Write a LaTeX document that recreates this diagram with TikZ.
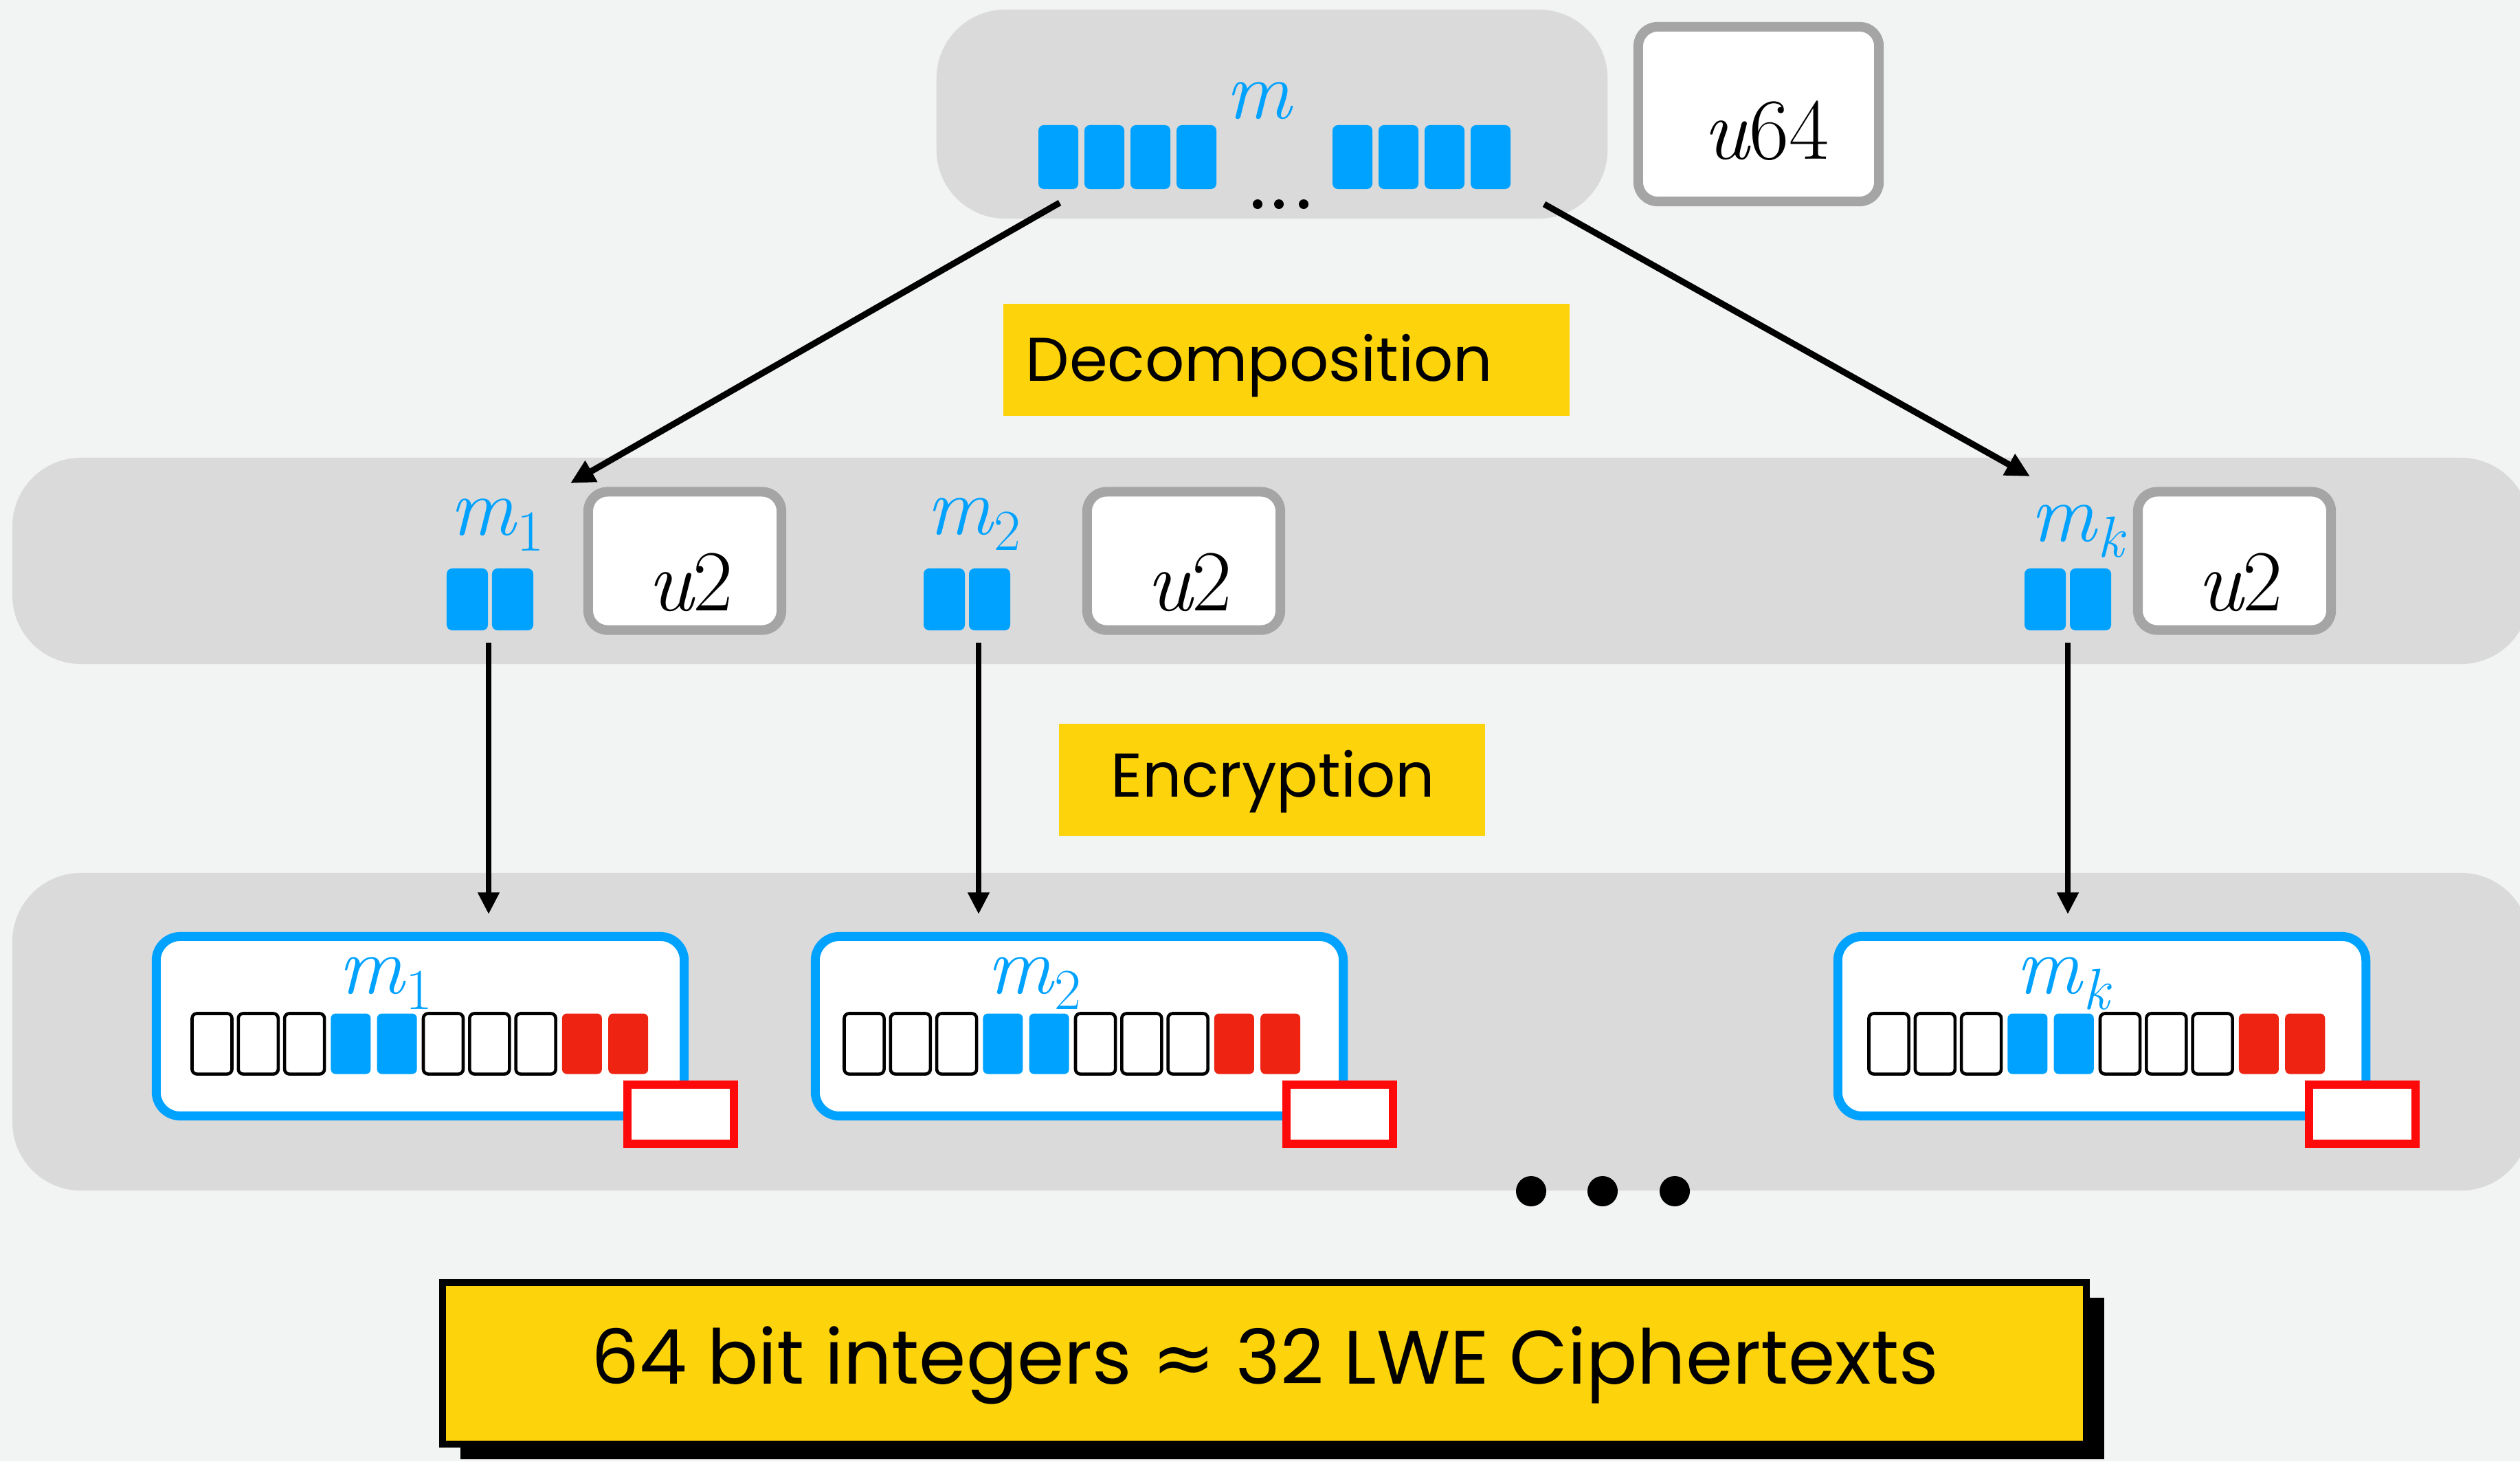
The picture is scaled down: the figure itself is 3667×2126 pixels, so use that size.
\documentclass[tikz,border=0pt]{standalone}
\usepackage{fontspec}
\setmainfont{Poppins}
\newfontfamily\symfont{DejaVu Sans}
\newfontfamily\lmfont{Latin Modern Roman}
\usetikzlibrary{arrows.meta,calc,shadows}

\definecolor{paper}{HTML}{F2F4F3}
\definecolor{bandgrey}{HTML}{DADADA}
\definecolor{bitblue}{HTML}{00A2FF}
\definecolor{bitred}{HTML}{EE2311}
\definecolor{framered}{HTML}{FF0A0A}
\definecolor{tagyellow}{HTML}{FDD30B}
\definecolor{boxgrey}{HTML}{A5A5A5}

% italic symbol with a lowered index, set in Latin Modern
\newcommand\varsub[2]{{\lmfont\itshape #1}\kern0.02em\raisebox{-0.2em}{\fontsize{24}{26}\selectfont\lmfont #2}}
\newcommand\uint[1]{{\lmfont\itshape u}{\lmfont #1}}

\begin{document}
\begin{tikzpicture}[x=0.01cm, y=-0.01cm,
  band/.style={fill=bandgrey, rounded corners=1cm, inner sep=0, outer sep=0},
  topbit/.style={fill=bitblue, rounded corners=0.08cm, minimum width=0.58cm, minimum height=0.93cm, inner sep=0},
  midbit/.style={fill=bitblue, rounded corners=0.08cm, minimum width=0.60cm, minimum height=0.90cm, inner sep=0},
  ubox/.style={draw=boxgrey, line width=4pt, fill=white, rounded corners=0.28cm, inner sep=0},
  utext/.style={font=\fontsize{36}{40}\selectfont, text=black, inner sep=0},
  mlabel/.style={font=\fontsize{34}{38}\selectfont, text=bitblue, inner sep=0, anchor=base west},
  cipher/.style={draw=bitblue, line width=3.7pt, fill=white, rounded corners=0.35cm,
                 minimum width=7.68cm, minimum height=2.61cm, inner sep=0},
  cell/.style={rounded corners=0.07cm, minimum width=0.58cm, minimum height=0.88cm, inner sep=0},
  zero/.style={cell, draw=black, line width=1.3pt, fill=white},
  msg/.style={cell, fill=bitblue},
  noise/.style={cell, fill=bitred},
  tag/.style={draw=framered, line width=3.4pt, fill=white, minimum width=1.55cm, minimum height=0.86cm, inner sep=0},
  steplabel/.style={fill=tagyellow, inner sep=0, minimum height=1.63cm},
  steptext/.style={font=\fontsize{25.5}{30}\selectfont, text=black, inner sep=0},
  flow/.style={line width=2.6pt, -{Triangle[length=10pt,width=9.5pt]}},
  down/.style={line width=2.2pt, -{Triangle[length=9pt,width=8.5pt]}},
  dot/.style={circle, fill=black, inner sep=0},
]
\useasboundingbox (0,0) rectangle (3667,2126);
\fill[paper] (0,0) rectangle (3667,2126);

% ---- grey bands ----
\node[band, minimum width=9.76cm, minimum height=3.04cm] (topband) at (1851,166) {};
\node[band, minimum width=36.61cm, minimum height=3.00cm] (midband) at (1849.5,816) {};
\node[band, minimum width=36.61cm, minimum height=4.62cm] (lowband) at (1849.5,1501) {};

% ---- the 64-bit message ----
\foreach \i in {0,...,3}{
  \node[topbit] (mA\i) at ({1540+\i*67},228.5) {};
  \node[topbit] (mB\i) at ({1968+\i*67},228.5) {};
}
\node[mlabel] (m) at (1783,172) {\lmfont\itshape m};
\foreach \i/\x in {1/1830,2/1861,3/1897}
  \node[dot, minimum size=0.14cm] (gap\i) at (\x,297) {};

\node[ubox, minimum width=3.50cm, minimum height=2.54cm] (u64box) at (2559,166) {};
\node[utext] (u64) at ($(u64box.center)+(11,24)$) {\uint{64}};

% ---- decomposition ----
\node[steplabel, minimum width=8.24cm] (decompbox) at (1872,523.5) {};
\node[steptext, anchor=base west] (decomp) at (1492,554) {Decomposition};

% ---- the 2-bit pieces ----
\foreach \n/\s/\x/\mx/\my/\ux in {1/1/650/654/778/996.5, 2/2/1344/1348/777/1722.5, k/\itshape k/2946/2954/787/3251.5}{
  \node[midbit] (p\n a) at ({\x+30},872) {};
  \node[midbit] (p\n b) at ({\x+96},872) {};
  \node[mlabel] (pm\n) at (\mx,\my) {\varsub{m}{\s}};
  \node[ubox, minimum width=2.81cm, minimum height=2.01cm] (ub\n) at (\ux,816) {};
  \node[utext] (u\n) at ($(ub\n.center)+(8,31)$) {\uint{2}};
}

% ---- decomposition arrows ----
\coordinate (dl-from) at (1542,295);
\coordinate (dl-to) at (830,703);
\coordinate (dr-from) at (2247,297);
\coordinate (dr-to) at (2954,693);
\draw[flow] (dl-from) -- (dl-to);
\draw[flow] (dr-from) -- (dr-to);

% ---- encryption ----
\node[steplabel, minimum width=6.20cm] (encbox) at (1851,1134.5) {};
\node[steptext, anchor=base] (enc) at (1852,1159) {Encryption};

% ---- LWE ciphertexts ----
\foreach \n/\s/\L/\cx/\mx/\tx in {1/1/221/277/492/990.5, 2/2/1180/1226/1436/1949.5, k/\itshape k/2668/2717/2933/3437.5}{
  \node[cipher] (ct\n) at ({\L+390.5},1493) {};
  \node[mlabel] (cm\n) at (\mx,1445) {\varsub{m}{\s}};
  \foreach \kind [count=\i] in {zero,zero,zero,msg,msg,zero,zero,zero,noise,noise}
    \node[\kind] (ct\n-\i) at ({\cx+31.5+(\i-1)*67.3},1518.5) {};
  \node[tag] (tag\n) at (\tx,1621) {};
}

% ---- encryption arrows ----
\foreach \n/\x in {1/711, 2/1424, k/3009}{
  \coordinate (e\n-from) at (\x,935);
  \coordinate (e\n-to) at (\x,1330);
  \draw[down] (e\n-from) -- (e\n-to);
}

% ---- more ciphertexts ----
\foreach \i/\x in {1/2228,2/2332,3/2437}
  \node[dot, minimum size=0.44cm] (more\i) at (\x,1733) {};

% ---- summary ----
\node[fill=tagyellow, draw=black, line width=2.8pt, inner sep=0,
      minimum width=23.90cm, minimum height=2.35cm,
      drop shadow={shadow xshift=0.26cm, shadow yshift=-0.22cm, opacity=1, fill=black}]
      (summarybox) at (1840,1983.5) {};
\node[font=\fontsize{31.3}{36}\selectfont, inner sep=0, anchor=base] (summary) at (1841,2013)
  {64 bit integers {\symfont ≈} 32 LWE Ciphertexts};
\end{tikzpicture}
\end{document}
